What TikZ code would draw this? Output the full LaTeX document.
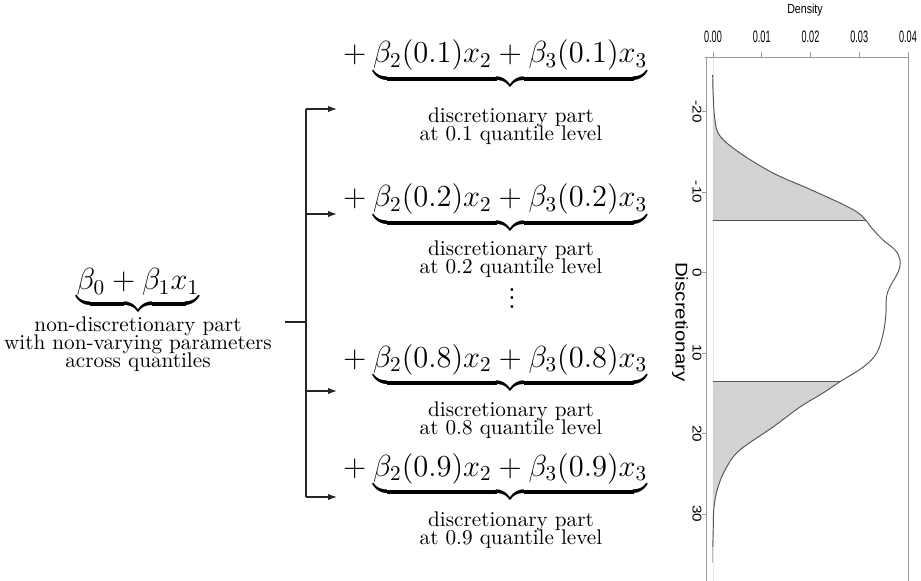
\documentclass[tikz,border=0pt]{standalone}
\usepackage{amsmath}
\usepackage{fontspec}
\newfontfamily\rfont{Liberation Sans}
\usetikzlibrary{arrows.meta}
\definecolor{axisgray}{HTML}{9A9A9A}
\definecolor{densgray}{HTML}{555555}
\definecolor{tailgray}{HTML}{D3D3D3}
\definecolor{basegray}{HTML}{E6E6E6}
\begin{document}
\begin{tikzpicture}[x=0.4717pt,y=-0.4717pt,
  conn/.style={line width=0.6pt, draw=black!85},
  arr/.style={conn, -{Latex[length=4.2pt,width=3pt]}},
  qnode/.style={anchor=base west, inner sep=0pt},
  lab/.style={anchor=base, inner sep=0pt, font=\normalsize},
  axisline/.style={draw=axisgray, line width=0.45pt},
  dens/.style={draw=densgray, line width=0.45pt},
  tail/.style={fill=tailgray},
  plab/.style={inner sep=0pt}
]
\useasboundingbox (0,0) rectangle (921,581);

% left part
\node[anchor=base, inner sep=0pt] (L) at (138,290) {\Large$\underbrace{\beta_0+\beta_1x_1}$};
\node[lab] (L1) at (138,331) {non-discretionary part};
\node[lab] (L2) at (138,349) {with non-varying parameters};
\node[lab] (L3) at (138,367) {across quantiles};

% right formulas
\node[qnode] (q1) at (336,63) {\Large${}+\underbrace{\beta_2(0.1)x_2+\beta_3(0.1)x_3}$};
\node[lab] (q1a) at (511,123) {discretionary part};
\node[lab] (q1b) at (511,141) {at 0.1 quantile level};
\node[qnode] (q2) at (336,207) {\Large${}+\underbrace{\beta_2(0.2)x_2+\beta_3(0.2)x_3}$};
\node[lab] (q2a) at (511,256) {discretionary part};
\node[lab] (q2b) at (511,274) {at 0.2 quantile level};
\node[qnode] (q3) at (336,367) {\Large${}+\underbrace{\beta_2(0.8)x_2+\beta_3(0.8)x_3}$};
\node[lab] (q3a) at (511,416) {discretionary part};
\node[lab] (q3b) at (511,434) {at 0.8 quantile level};
\node[qnode] (q4) at (336,476) {\Large${}+\underbrace{\beta_2(0.9)x_2+\beta_3(0.9)x_3}$};
\node[lab] (q4a) at (511,526) {discretionary part};
\node[lab] (q4b) at (511,544) {at 0.9 quantile level};
\node (dots) at (512,292) {\Large$\vdots$};

% connectors
\coordinate (s) at (285,322);
\coordinate (j) at (306,322);
\coordinate (t1) at (306,109);
\coordinate (t2) at (306,214);
\coordinate (t3) at (306,391);
\coordinate (t4) at (306,497);
\coordinate (a1) at (337,109);
\coordinate (a2) at (337,214);
\coordinate (a3) at (337,391);
\coordinate (a4) at (337,497);
\draw[conn] (s) -- (j);
\draw[conn] (t1) -- (t4);
\draw[arr] (t1) -- (a1);
\draw[arr] (t2) -- (a2);
\draw[arr] (t3) -- (a3);
\draw[arr] (t4) -- (a4);

% density plot
\draw[draw=basegray, line width=0.4pt] (713,57) -- (713,581);
\fill[tail] plot[smooth, tension=0.6] coordinates {(712.7,75) (713.2,95) (715,120) (720,136) (740,153) (773,173) (807,188) (840,203) (857,212) (865.7,220)} -- (713,220) -- cycle;
\fill[tail] plot[smooth, tension=0.6] coordinates {(840,381.7) (823,393) (800,407) (773,427) (740,450) (726.7,467) (718,487) (714,507) (713.3,527) (712.8,547)} -- (713,381.7) -- cycle;
\draw[dens] plot[smooth, tension=0.6] coordinates {(712.7,75) (713.2,95) (715,120) (720,136) (740,153) (773,173) (807,188) (840,203) (857,212) (865.7,220) (871.7,228) (883,240) (895,250) (900,260) (898.3,271.7) (890,286.7) (886.5,297) (886,313) (883.3,333) (876.7,353) (863.3,367) (840,381.7) (823,393) (800,407) (773,427) (740,450) (726.7,467) (718,487) (714,507) (713.3,527) (712.8,547)};
\draw[dens] (713,220) -- (865.7,220);
\draw[dens] (713,381.7) -- (840,381.7);
\draw[draw=densgray!40, line width=0.4pt] (712.8,547) -- (712.8,563);

% axes and box
\draw[axisline] (705,57) -- (908,57);
\draw[axisline] (706,57) -- (706,581);
\draw[axisline] (908,57) -- (908,581);
\foreach \k/\lab in {0/0.00,1/0.01,2/0.02,3/0.03,4/0.04} {
  \draw[axisline] ({713+48.75*\k},57) -- ({713+48.75*\k},52);
  \node[plab] (dx\k) at ({713+48.75*\k},37) {\scalebox{0.55}[1]{\fontsize{7.8pt}{7.8pt}\rfont \lab}};
}
\node[plab] (dlab) at (805,10) {\scalebox{0.81}[1]{\fontsize{6.2pt}{6.2pt}\rfont Density}};
\foreach \v/\lab in {-20/-20,-10/-10,0/0,10/10,20/20,30/30} {
  \draw[axisline] (706,{272.5+8.05*(\v)}) -- (702,{272.5+8.05*(\v)});
  \node[plab] (dy\lab) at (697,{272.5+8.05*(\v)}) {\rotatebox{-90}{\scalebox{1.2}[1]{\fontsize{6pt}{6pt}\rfont \lab}}};
}
\node[plab] (ylab) at (680,322) {\rotatebox{-90}{\scalebox{1.21}[1]{\fontsize{8pt}{8pt}\rfont Discretionary}}};
\end{tikzpicture}
\end{document}
